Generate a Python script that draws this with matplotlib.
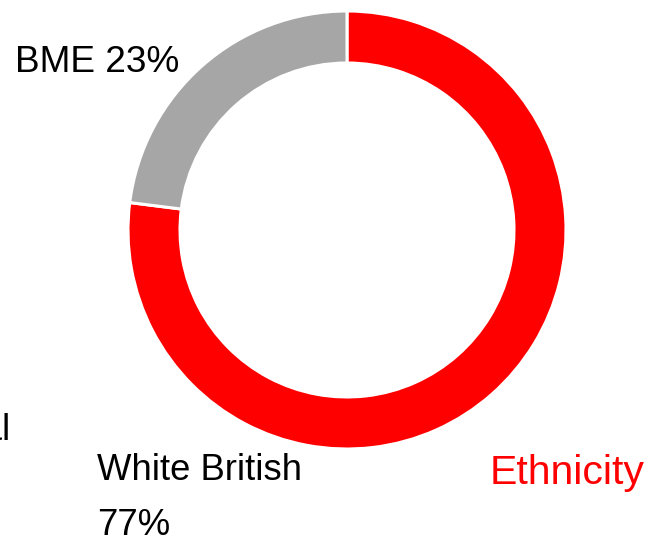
import matplotlib.pyplot as plt

# data
labels = ['White British', 'BME']
shares = [77, 23]
colors = ['#FF0000', '#A6A6A6']

W, H, DPI = 670, 543, 100
plt.rcParams['font.family'] = ['Liberation Sans', 'DejaVu Sans']


def pt(px):
    return px * 72.0 / DPI


fig = plt.figure(figsize=(W / DPI, H / DPI), dpi=DPI)
ax = fig.add_axes([0, 0, 1, 1])

# donut, drawn in pixel-like data coordinates (y measured from the bottom)
cx, cy, R = 347, H - 230, 219
ax.pie(shares, colors=colors, startangle=90, counterclock=False,
       center=(cx, cy), radius=R,
       wedgeprops=dict(width=52, edgecolor='white', linewidth=2.2))
ax.set_xlim(0, W)
ax.set_ylim(0, H)
ax.set_aspect('equal')
ax.axis('off')

# labels
ax.text(15, H - 72, 'BME %d%%' % shares[1], fontsize=pt(37), color='black',
        ha='left', va='baseline')
ax.text(97, H - 480, labels[0], fontsize=pt(36.5), color='black',
        ha='left', va='baseline')
ax.text(97, H - 535, '%d%%' % shares[0], fontsize=pt(36.5), color='black',
        ha='left', va='baseline')
ax.text(490, H - 484, 'Ethnicity', fontsize=pt(41), color='#FF0000',
        ha='left', va='baseline')
# fragment of a label cut off at the left edge
ax.text(10, H - 440, 'Total', fontsize=pt(36.5), color='black',
        ha='right', va='baseline', clip_on=False)

fig.savefig('out.png', dpi=DPI)
